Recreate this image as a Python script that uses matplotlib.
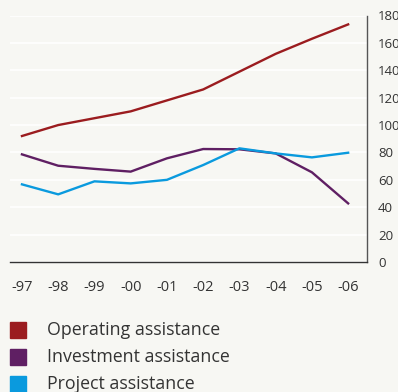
import matplotlib.pyplot as plt
from matplotlib.patches import Rectangle

# assistance by year (MSEK)
years = ['-97', '-98', '-99', '-00', '-01', '-02', '-03', '-04', '-05', '-06']
operating = [92, 100, 105, 110, 118, 126, 139, 152, 163, 173.5]
investment = [78.6, 70.3, 68, 66, 75.7, 82.5, 82.3, 79.3, 65.5, 42.8]
project = [56.7, 49.4, 58.9, 57.4, 60, 70.8, 83, 79.3, 76.4, 79.8]
labels = ['Operating assistance', 'Investment assistance', 'Project assistance']
colors = ['#9b1c1f', '#5f1f63', '#0a9ade']
yticks = [0, 20, 40, 60, 80, 100, 120, 140, 160, 180]

bg = '#f7f7f3'
plt.rcParams['font.family'] = ['Open Sans', 'DejaVu Sans']

fig = plt.figure(figsize=(3.98, 3.92), dpi=100, facecolor=bg)
ax = fig.add_axes([10 / 398, 130 / 392, 357 / 398, 246.5 / 392], facecolor=bg)

x = list(range(len(years)))
for series, c in zip([operating, investment, project], colors):
    ax.plot(x, series, color=c, lw=1.7, solid_joinstyle='round')

ax.set_xlim(-0.33, 9.52)
ax.set_ylim(0, 180)
ax.set_yticks(yticks)
ax.set_xticks(x)
ax.set_xticklabels(years)
ax.yaxis.tick_right()
ax.grid(axis='y', color='white', lw=1.2)
ax.set_axisbelow(True)
for s in ['top', 'left']:
    ax.spines[s].set_visible(False)
ax.spines['right'].set_color('#555555')
ax.spines['bottom'].set_color('#333333')
ax.spines['right'].set_linewidth(1)
ax.spines['bottom'].set_linewidth(1)
ax.tick_params(axis='y', length=0, pad=8, labelsize=9.5, labelcolor='#333333')
ax.tick_params(axis='x', length=0, pad=13, labelsize=10.5, labelcolor='#333333')

# legend as coloured squares with text
for i, (lab, c) in enumerate(zip(labels, colors)):
    top = 322 + i * 27
    fig.patches.append(Rectangle((10 / 398, 1 - (top + 16) / 392), 16 / 398, 16 / 392,
                                 transform=fig.transFigure, color=c))
    fig.text(47 / 398, 1 - (top + 8) / 392, lab, fontsize=12.8, color='#333333', va='center')

fig.savefig('out.png', dpi=100, facecolor=bg)
